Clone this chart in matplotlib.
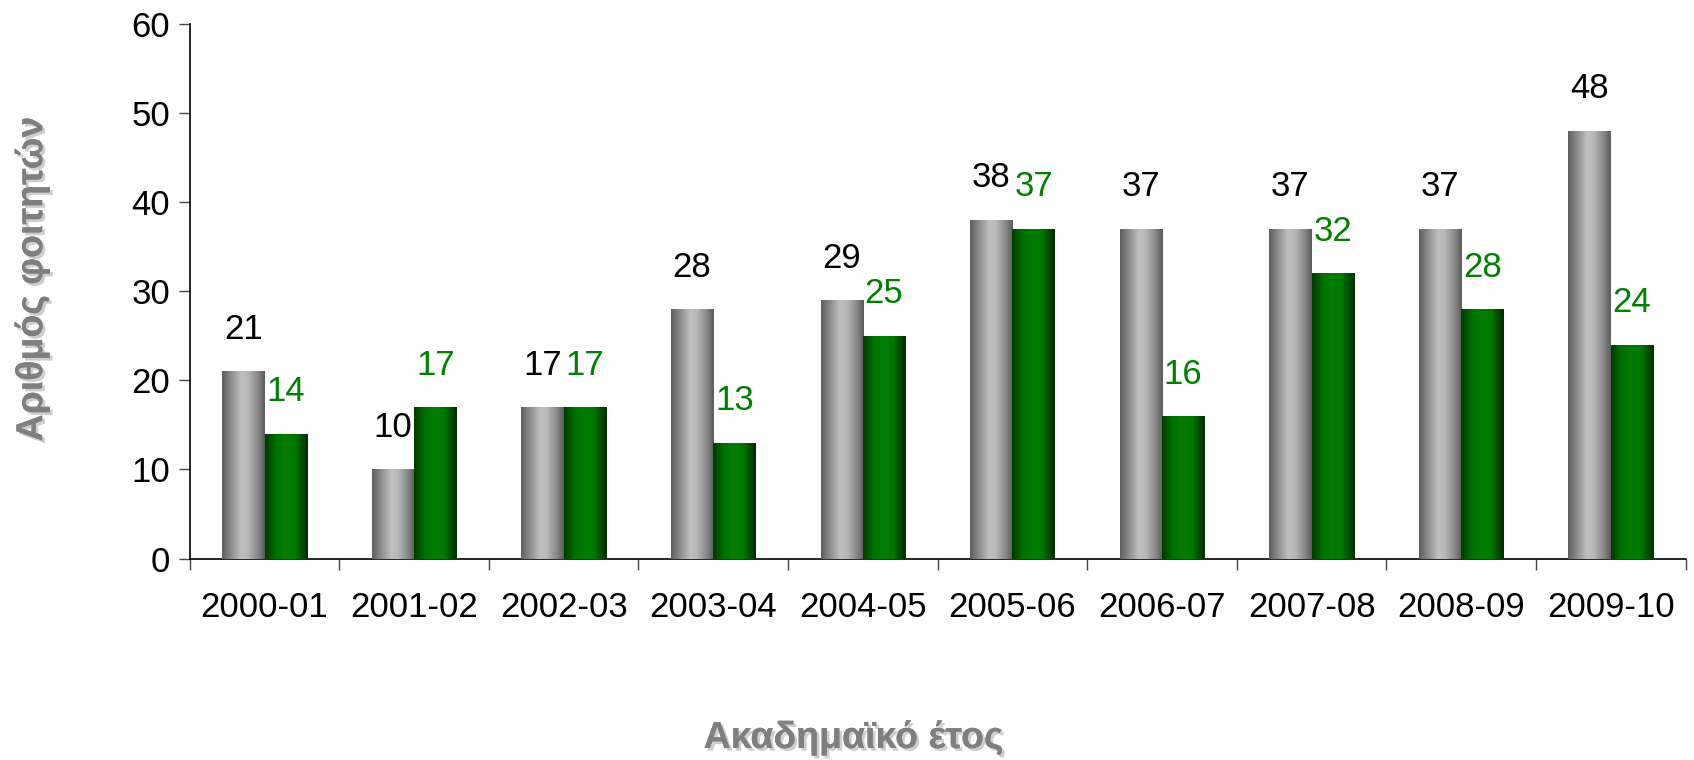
import numpy as np
import matplotlib
matplotlib.use('Agg')
import matplotlib.pyplot as plt
from matplotlib.colors import LinearSegmentedColormap
import matplotlib.patheffects as pe

plt.rcParams['font.family'] = ['Liberation Sans', 'DejaVu Sans']

years = ['2000-01', '2001-02', '2002-03', '2003-04', '2004-05',
         '2005-06', '2006-07', '2007-08', '2008-09', '2009-10']
grey_values = [21, 10, 17, 28, 29, 38, 37, 37, 37, 48]
green_values = [14, 17, 17, 13, 25, 37, 16, 32, 28, 24]
y_ticks = [0, 10, 20, 30, 40, 50, 60]
x_title = 'Ακαδημαϊκό έτος'
y_title = 'Αριθμός φοιτητών'

fig = plt.figure(figsize=(16.94, 7.60), dpi=100)
ax = fig.add_axes([0.112, 0.265, 0.883, 0.704])

n = len(years)
x = np.arange(n)
w = 0.283
fs = 25

grey_cmap = LinearSegmentedColormap.from_list(
    'g', [(0, '#5e5e5e'), (0.2, '#8a8a8a'), (0.45, '#c0c0c0'), (0.6, '#b8b8b8'), (0.85, '#858585'), (1, '#5a5a5a')])
green_cmap = LinearSegmentedColormap.from_list(
    'gr', [(0, '#003a00'), (0.25, '#007000'), (0.45, '#007d00'), (0.7, '#007800'), (0.88, '#004800'), (1, '#002c00')])

bars_grey = ax.bar(x - w / 2, grey_values, w, color='#9a9a9a', zorder=2)
bars_green = ax.bar(x + w / 2, green_values, w, color='#007000', zorder=2)

grad = np.linspace(0, 1, 256).reshape(1, -1)
for bars, cmap in ((bars_grey, grey_cmap), (bars_green, green_cmap)):
    for b in bars:
        x0 = b.get_x()
        x1 = x0 + b.get_width()
        h = b.get_height()
        im = ax.imshow(grad, extent=[x0, x1, 0, h], aspect='auto', cmap=cmap,
                       zorder=3, interpolation='bilinear')
        im.set_clip_path(b)

label_off = 4.7
for xi, v in zip(x, grey_values):
    ax.text(xi - w / 2, v + label_off, str(v), ha='center', va='center',
            fontsize=fs, color='black', zorder=4)
for xi, v in zip(x, green_values):
    ax.text(xi + w / 2, v + label_off, str(v), ha='center', va='center',
            fontsize=fs, color='#008000', zorder=4)

ax.set_xlim(-0.5, n - 0.5)
ax.set_ylim(0, 60)
ax.set_yticks(y_ticks)
ax.set_yticklabels([str(t) for t in y_ticks], fontsize=fs)
ax.set_xticks(np.arange(n + 1) - 0.5)
ax.set_xticklabels([])
ax.set_xticks(x, minor=True)
ax.set_xticklabels(years, minor=True, fontsize=fs)
ax.tick_params(axis='x', which='major', length=8, width=1, color='#444444', direction='out')
ax.tick_params(axis='x', which='minor', length=0, pad=23)
ax.tick_params(axis='y', length=8, width=1, color='#444444', direction='out', pad=6)

for s in ('top', 'right'):
    ax.spines[s].set_visible(False)
for s in ('left', 'bottom'):
    ax.spines[s].set_color('black')
    ax.spines[s].set_linewidth(1.2)

shadow = [pe.withSimplePatchShadow(offset=(2, -2), shadow_rgbFace='#b0b0b0', alpha=0.6), pe.Normal()]
fig.text(0.504, 0.029, x_title, ha='center', va='center', fontsize=27,
         fontweight='bold', color='#7f7f7f', path_effects=shadow)
fig.text(0.019, 0.633, y_title, ha='center', va='center', fontsize=27,
         fontweight='bold', color='#7f7f7f', rotation=90, path_effects=shadow)

fig.savefig('out.png', dpi=100)
